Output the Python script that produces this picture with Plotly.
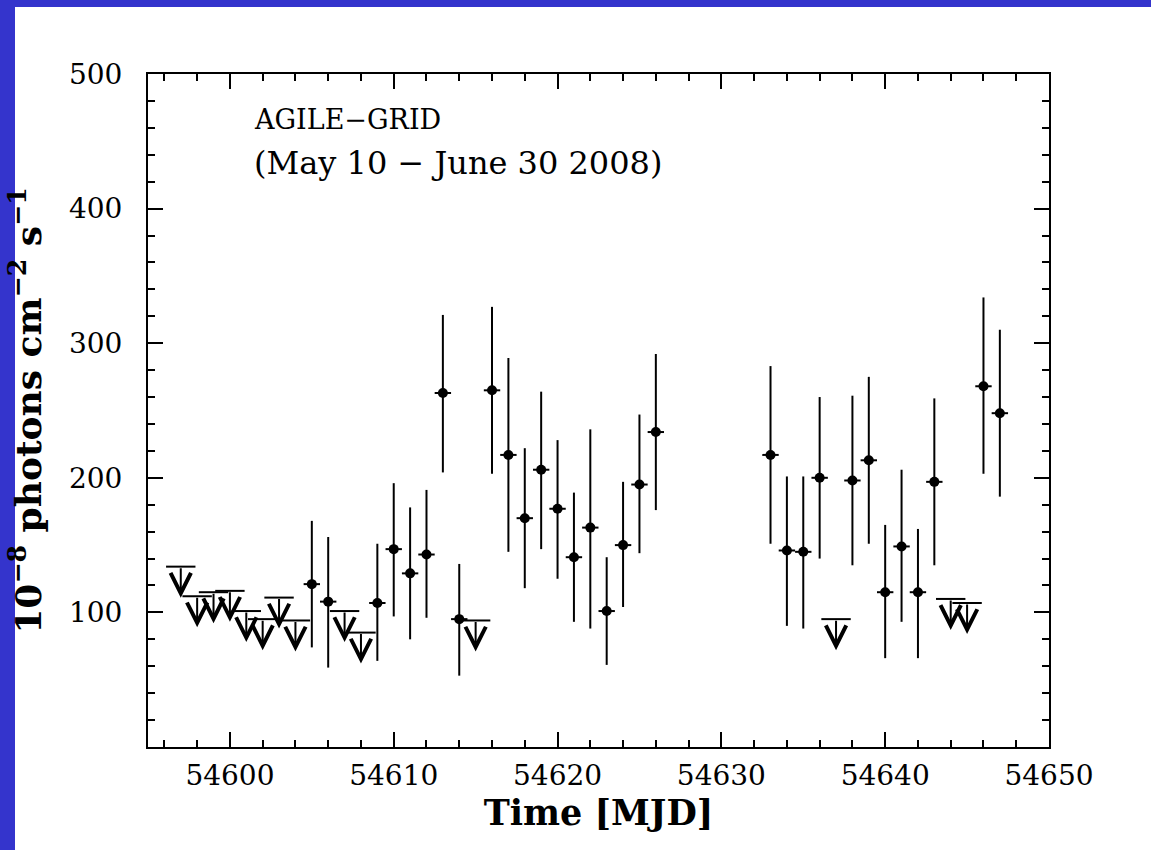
import plotly.graph_objects as go

# ---- data ----
det_mjd = [54605, 54606, 54609, 54610, 54611, 54612, 54613, 54614,
           54616, 54617, 54618, 54619, 54620, 54621, 54622, 54623,
           54624, 54625, 54626, 54633, 54634, 54635, 54636, 54638,
           54639, 54640, 54641, 54642, 54643, 54646, 54647]
det_flux = [121, 108, 107, 147, 129, 143, 263, 95,
            265, 217, 170, 206, 177, 141, 163, 101,
            150, 195, 234, 217, 146, 145, 200, 198,
            213, 115, 149, 115, 197, 268, 248]
det_hi = [168, 156, 151, 196, 178, 191, 321, 136,
          327, 289, 222, 264, 228, 189, 236, 141,
          197, 247, 292, 283, 201, 201, 260, 261,
          275, 165, 206, 162, 259, 334, 310]
det_lo = [74, 59, 64, 97, 80, 96, 204, 53,
          203, 145, 118, 147, 125, 93, 88, 61,
          104, 144, 176, 151, 90, 88, 140, 135,
          151, 66, 93, 66, 135, 203, 186]

ul_mjd = [54597, 54598, 54599, 54600, 54601, 54602, 54603, 54604,
          54607, 54608, 54615, 54637, 54644, 54645]
ul_flux = [134, 112, 115, 116, 101, 95, 111, 94,
           101, 85, 94, 95, 110, 107]

x_ticks = [54600, 54610, 54620, 54630, 54640, 54650]
y_ticks = [100, 200, 300, 400, 500]

label_line1 = "AGILE\u2212GRID"
label_line2 = "(May 10 \u2212 June 30 2008)"
x_title = "Time [MJD]"
y_title = "10<sup>\u22128</sup> photons cm<sup>\u22122</sup> s<sup>\u22121</sup>"

FONT = "DejaVu Serif"
W, H = 1151, 850
ML, MR, MT, MB = 148, 102, 74, 103
PW, PH = W - ML - MR, H - MT - MB

err_plus = [h - f for h, f in zip(det_hi, det_flux)]
err_minus = [f - l for f, l in zip(det_flux, det_lo)]

fig = go.Figure()

fig.add_trace(go.Scatter(
    x=det_mjd, y=det_flux, mode="markers",
    marker=dict(symbol="circle", size=10, color="black"),
    error_y=dict(type="data", array=err_plus, arrayminus=err_minus,
                 symmetric=False, thickness=2, width=0, color="black"),
    error_x=dict(type="constant", value=0.5, thickness=2, width=0, color="black"),
    showlegend=False, hoverinfo="x+y",
))

fig.add_trace(go.Scatter(
    x=ul_mjd, y=ul_flux, mode="markers",
    marker=dict(symbol="line-ew", size=21, color="black",
                line=dict(width=2, color="black")),
    showlegend=False, hoverinfo="x+y",
))

for xm, yl in zip(ul_mjd, ul_flux):
    fig.add_annotation(
        x=xm, y=yl, xref="x", yref="y", text="",
        showarrow=True, ax=0, ay=-31, yshift=-31,
        arrowhead=5, arrowsize=2.0, arrowwidth=2, arrowcolor="black",
        standoff=0, startstandoff=0,
    )

fig.add_annotation(
    x=(252 - ML) / PW, y=1 - (120 - MT) / PH, xref="paper", yref="paper",
    text=label_line1, showarrow=False, xanchor="left", yanchor="middle",
    font=dict(family=FONT, size=27, color="black"),
)
fig.add_annotation(
    x=(252 - ML) / PW, y=1 - (163 - MT) / PH, xref="paper", yref="paper",
    text=label_line2, showarrow=False, xanchor="left", yanchor="middle",
    font=dict(family=FONT, size=32, color="black"),
)

# blue frame strips
blue = "#3434CC"
fig.add_shape(type="rect", xref="paper", yref="paper",
              x0=-ML / PW, x1=(15 - ML) / PW, y0=-MB / PH, y1=1 + MT / PH,
              fillcolor=blue, line=dict(width=0), layer="above")
fig.add_shape(type="rect", xref="paper", yref="paper",
              x0=-ML / PW, x1=1 + MR / PW, y0=1 + (MT - 7) / PH, y1=1 + MT / PH,
              fillcolor=blue, line=dict(width=0), layer="above")

axis_common = dict(
    showline=True, linecolor="black", linewidth=2, mirror="allticks",
    ticks="inside", ticklen=15, tickwidth=1.5, tickcolor="black",
    showgrid=False, zeroline=False,
    tickfont=dict(family=FONT, size=28, color="black"),
)

fig.update_xaxes(
    range=[54595, 54650], tickvals=x_ticks, ticktext=[str(v) for v in x_ticks],
    minor=dict(ticks="inside", ticklen=7, tickwidth=1.5, tickcolor="black",
               dtick=2, tick0=54600, showgrid=False),
    ticklabelstandoff=2,
    title=dict(text=x_title, font=dict(family=FONT, size=35, color="black", weight="bold"),
               standoff=4),
    **axis_common,
)
fig.update_yaxes(
    range=[0, 500], tickvals=y_ticks, ticktext=[str(v) for v in y_ticks],
    minor=dict(ticks="inside", ticklen=7, tickwidth=1.5, tickcolor="black",
               dtick=20, tick0=0, showgrid=False),
    ticklabelstandoff=18,
    title=dict(text=y_title, font=dict(family=FONT, size=36, color="black", weight="bold"),
               standoff=16),
    **axis_common,
)

fig.update_layout(
    width=W, height=H,
    margin=dict(l=ML, r=MR, t=MT, b=MB, autoexpand=False),
    paper_bgcolor="white", plot_bgcolor="white",
    showlegend=False,
)

fig.write_html("out.html")
